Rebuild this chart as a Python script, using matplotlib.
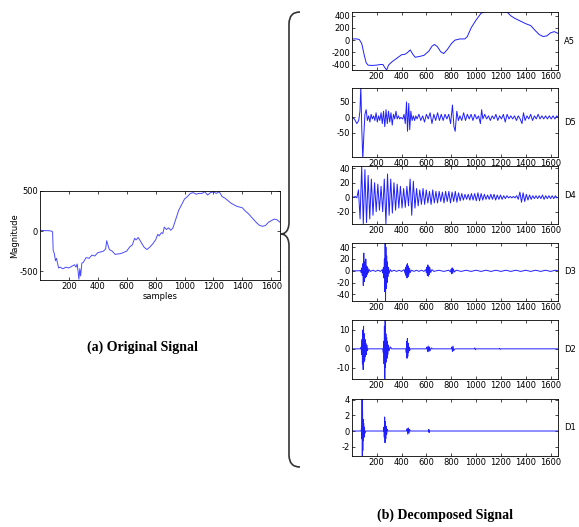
import matplotlib
matplotlib.use("Agg")
import matplotlib.pyplot as plt
import numpy as np
from matplotlib.path import Path
from matplotlib.patches import PathPatch

W, H = 579, 527
plt.rcParams['font.family'] = ['DejaVu Sans']

# ---- original signal (samples, magnitude) ----
orig_x = [1, 20, 40, 60, 80, 88, 92, 100, 108, 115, 122, 130, 140, 160, 180, 200, 220, 240, 250,
          258, 264, 270, 276, 282, 290, 300, 320, 340, 360, 380, 400, 420, 440, 455, 462, 470, 480,
          500, 520, 560, 600, 620, 640, 655, 665, 680, 700, 720, 740, 760, 780, 800, 815, 825, 840,
          850, 860, 875, 890, 905, 920, 940, 960, 980, 1000, 1020, 1040, 1060, 1080, 1100, 1120,
          1140, 1160, 1180, 1200, 1220, 1240, 1260, 1280, 1300, 1320, 1340, 1360, 1380, 1400, 1420,
          1440, 1460, 1480, 1500, 1520, 1540, 1560, 1580, 1600, 1620, 1640, 1660]
orig_y = [10, 8, 5, 5, 0, -10, -240, -280, -370, -340, -400, -460, -450, -470, -450, -460, -440,
          -420, -450, -410, -500, -600, -470, -560, -400, -390, -330, -340, -300, -310, -270, -260,
          -250, -220, -120, -170, -230, -250, -290, -280, -250, -200, -170, -90, -110, -80, -140,
          -200, -230, -200, -160, -110, -40, -60, -20, -30, 50, 20, 40, 10, 40, 150, 260, 330, 400,
          430, 470, 480, 460, 470, 470, 490, 450, 480, 490, 470, 490, 430, 410, 380, 350, 330, 310,
          300, 290, 250, 220, 180, 140, 100, 70, 60, 70, 110, 130, 150, 140, 110]

# ---- approximation A5 ----
a5_x = [1, 40, 60, 80, 100, 115, 130, 160, 200, 230, 250, 265, 280, 295, 320, 360, 400, 430, 450,
        470, 490, 510, 540, 580, 620, 645, 665, 690, 715, 740, 770, 800, 830, 870, 910, 930, 960,
        1000, 1040, 1070, 1100, 1150, 1200, 1250, 1280, 1310, 1350, 1400, 1440, 1480, 1510, 1540,
        1570, 1600, 1630, 1660]
a5_y = [20, 20, 10, -60, -250, -370, -410, -415, -410, -400, -400, -450, -490, -410, -360, -300,
        -240, -230, -200, -160, -230, -280, -270, -250, -180, -100, -70, -110, -190, -220, -150,
        -60, 0, 20, 20, 60, 200, 330, 440, 470, 470, 470, 470, 460, 400, 360, 320, 270, 240, 150,
        90, 60, 70, 120, 140, 110]

# ---- detail D5 ----
d5_x = [1, 20, 40, 55, 65, 72, 80, 88, 96, 105, 115, 125, 135, 145, 155, 165, 175, 185, 195, 205,
        215, 225, 235, 245, 255, 265, 275, 285, 295, 305, 315, 325, 335, 345, 355, 365, 375, 385,
        395, 410, 420, 430, 440, 448, 458, 466, 475, 485, 495, 505, 515, 525, 540, 555, 570, 585,
        600, 615, 630, 645, 660, 675, 690, 705, 720, 735, 750, 765, 780, 795, 810, 822, 832, 845,
        858, 870, 885, 900, 915, 930, 945, 960, 975, 990, 1005, 1020, 1035, 1045, 1055, 1070, 1085,
        1100, 1115, 1130, 1145, 1160, 1175, 1190, 1205, 1220, 1235, 1250, 1265, 1280, 1295, 1310,
        1325, 1340, 1355, 1370, 1382, 1395, 1410, 1425, 1440, 1455, 1470, 1485, 1500, 1515, 1530,
        1545, 1560, 1575, 1590, 1605, 1620, 1635, 1650, 1660]
d5_y = [0, -5, -20, -10, 20, 100, -40, -135, -60, 10, 25, -10, 5, -15, 10, -5, 5, -10, 15, -15,
        5, -10, 15, -20, 20, -30, 25, -20, 20, -15, 15, -25, 10, -5, 20, -5, 5, -5, 0, -5, 10, -20,
        50, -45, 45, -40, 20, -10, 5, -10, 5, -5, 10, -10, 5, -15, 10, -5, 15, -20, 10, -10, 15,
        -10, 10, -10, 10, -5, 10, -20, 40, -30, -45, 20, -10, 5, -10, 15, -10, 10, -5, 10, -10, 10,
        -5, 5, -20, 25, -5, 10, -5, 5, -10, 5, -5, 10, -10, 5, -5, 10, -15, 10, -5, 5, -5, 5, -10,
        5, -5, -20, 15, -10, 5, -5, 10, -10, 5, -5, 10, -5, 5, -5, 5, -5, 5, -5, 5, -5, 5, 0]

# ---- detail D4 (one value every d4_step samples) ----
d4_step = 13
d4_y = [0, 0, 1, -1, 10, -30, 43, -37, 38, -35, 30, -30, 25, -25, 20, -20, 18, -18, 15, -20,
        25, -37, 32, -25, 25, -22, 20, -18, 18, -15, 15, -15, 12, -14, 15, -12, 25, -25, 22, -15,
        12, -12, 10, -10, 12, -10, 10, -8, 8, -10, 10, -8, 8, -8, 8, -6, 7, -8, 8, -6,
        8, -8, 7, -6, 8, -7, 6, -5, 5, -4, 4, -3, 4, -4, 5, -4, 5, -5, 6, -5,
        5, -4, 4, -3, 3, -3, 4, -3, 4, -4, 3, -3, 3, -3, 2, -2, 2, -1, 1, -1,
        1, -1, 2, -3, 7, -7, 6, -6, 4, -4, 3, -3, 2, -2, 2, -2, 2, -2, 3, -3,
        2, -2, 2, -2, 2, -2, 2, -1]

# ---- detail D3 ----
d3_x = [1, 60, 70, 75, 80, 84, 88, 92, 96, 100, 104, 108, 112, 116, 120, 124, 128, 132, 140, 150,
        170, 190, 210, 230, 245, 250, 254, 258, 262, 265, 268, 271, 274, 277, 280, 283, 286, 290,
        295, 300, 310, 320, 340, 360, 380, 400, 420, 428, 432, 436, 440, 444, 448, 452, 456, 460,
        465, 470, 480, 500, 520, 540, 560, 580, 595, 600, 604, 608, 612, 616, 620, 624, 628, 635,
        645, 660, 700, 740, 780, 795, 800, 804, 808, 812, 818, 825, 840, 880, 920, 960, 1000, 1040,
        1080, 1120, 1160, 1200, 1240, 1280, 1320, 1360, 1400, 1440, 1480, 1520, 1560, 1600, 1640,
        1660]
d3_y = [0, 0, 1, -3, 5, -8, 12, -25, 30, -18, 15, -12, 20, -10, 8, -6, 5, -3, 2, -1,
        1, -1, 1, -1, 2, -4, 6, -12, 20, -35, 55, -60, 40, -30, 25, -20, 15, -10,
        6, -4, 2, -1, 1, -1, 1, -1, 2, -4, 6, -8, 10, -12, 12, -10, 8, -6,
        4, -3, 1, -1, 1, -1, 1, -1, 2, -3, 6, -8, 10, -9, 7, -6, 5, -3,
        2, -1, 1, -1, 1, -2, 3, -5, 5, -4, 3, -2, 1, -1, 1, -1, 1, -1,
        1, -1, 1, -1, 1, -1, 1, -1, 1, -1, 1, -1, 1, -1, 1, 0]

# ---- detail D2 ----
d2_x = [1, 70, 75, 78, 82, 85, 88, 91, 94, 97, 100, 103, 106, 109, 112, 116, 120, 125, 130, 250,
        253, 256, 259, 262, 265, 268, 271, 274, 277, 280, 283, 286, 290, 295, 300, 310, 320, 435,
        438, 441, 444, 447, 450, 453, 456, 460, 465, 470, 600, 605, 610, 615, 620, 625, 630, 640,
        650, 800, 805, 810, 815, 820, 830, 985, 990, 995, 1000, 1185, 1190, 1195, 1200, 1660]
d2_y = [0, 0, 1, -3, 5, -8, 10, -11, 12, -7, 8, -6, 5, -4, 3, -3, 2, -1, 0, 0,
        -2, 4, -8, 12, -17, 16, -10, 8, -7, 6, -5, 4, -3, 2, -1, 1, 0, 0,
        -2, 4, -5, 5.5, -4, 3, -2, 1, -1, 0, 0, 1, -1.5, 1.5, -1.5, 1, -1, 0.5,
        0, 0, 1, -1.5, 1.5, -1, 0, 0, 0.5, -0.5, 0, 0, 0.3, -0.3, 0, 0]

# ---- detail D1 ----
d1_x = [1, 75, 78, 80, 82, 84, 86, 88, 90, 92, 95, 98, 101, 104, 110, 255, 258, 261, 264, 267,
        270, 273, 276, 280, 285, 290, 440, 445, 450, 455, 460, 465, 470, 618, 620, 622, 624, 1660]
d1_y = [0, 0, 0.5, -1, 4.3, -3.4, 2.5, -2.5, 1.5, -1.2, 1, -0.8, 0.5, -0.3, 0, 0, 0.5, -0.8, 1.8,
        -1.5, 1.2, -1, 0.6, -0.4, 0.2, 0, 0, 0.3, -0.4, 0.4, -0.3, 0.2, 0, 0, 0.2, -0.2, 0, 0]

x_ticks = [200, 400, 600, 800, 1000, 1200, 1400, 1600]
x_max = 1660
line_col = '#1f1fff'

# name, x, y, ylim, yticks, top px, bottom px
panels = [
    ('A5', a5_x, a5_y, (-490, 462), [-400, -200, 0, 200, 400], 12, 70),
    ('D5', d5_x, d5_y, (-128, 95), [-50, 0, 50], 88, 157),
    ('D4', list(np.arange(len(d4_y)) * d4_step + 1), d4_y, (-37, 43), [-20, 0, 20, 40], 166, 224),
    ('D3', d3_x, d3_y, (-51, 47), [-40, -20, 0, 20, 40], 243, 301),
    ('D2', d2_x, d2_y, (-16, 15.3), [-10, 0, 10], 320, 379),
    ('D1', d1_x, d1_y, (-3.2, 4.1), [-2, 0, 2, 4], 399, 456),
]


def rect(left, top, right, bottom):
    return [left / W, 1 - bottom / H, (right - left) / W, (bottom - top) / H]


def style(ax):
    ax.tick_params(direction='in', top=True, right=True, length=2.5, width=0.5,
                   labelsize=6, pad=1.5)
    for s in ax.spines.values():
        s.set_linewidth(0.6)


fig = plt.figure(figsize=(W / 100, H / 100), dpi=100)

# (a) original signal
ax = fig.add_axes(rect(40, 191, 280, 280))
ax.plot(orig_x, orig_y, color='#4a4aff', lw=0.7)
ax.set_xlim(1, x_max)
ax.set_ylim(-610, 500)
ax.set_xticks(x_ticks)
ax.set_yticks([-500, 0, 500], labels=['-500', '0', '500'])
ax.set_xlabel('samples', fontsize=6, labelpad=1)
ax.set_ylabel('Magnitude', fontsize=6, labelpad=0)
style(ax)

# (b) decomposed signal
for name, xs, ys, ylim, yt, top, bottom in panels:
    ax = fig.add_axes(rect(352, top, 558, bottom))
    ax.plot(xs, ys, color=line_col, lw=0.7)
    ax.set_xlim(1, x_max)
    ax.set_ylim(*ylim)
    ax.set_xticks(x_ticks)
    ax.set_yticks(yt, labels=[str(v) for v in yt])
    style(ax)
    fig.text(564 / W, 1 - (top + bottom) / 2 / H, name, fontsize=6, ha='left', va='center')

# curly brace
bx, tip_x, end_x = 289, 281, 300
top_y, mid_y, bot_y = 12, 234, 467
pts = [(end_x, top_y), (bx, top_y), (bx, top_y + 12),
       (bx, mid_y - 12),
       (bx, mid_y - 1), (tip_x + 2, mid_y), (tip_x, mid_y),
       (tip_x + 2, mid_y), (bx, mid_y + 1), (bx, mid_y + 12),
       (bx, bot_y - 12),
       (bx, bot_y), (end_x, bot_y)]
codes = [Path.MOVETO, Path.CURVE3, Path.CURVE3, Path.LINETO,
         Path.CURVE4, Path.CURVE4, Path.CURVE4,
         Path.CURVE4, Path.CURVE4, Path.CURVE4,
         Path.LINETO, Path.CURVE3, Path.CURVE3]
verts = [(x / W, 1 - y / H) for x, y in pts]
fig.add_artist(PathPatch(Path(verts, codes), transform=fig.transFigure,
                         fill=False, edgecolor='#333333', lw=1.2))

cap = dict(fontsize=10, fontweight='bold', family=['Liberation Serif', 'DejaVu Serif'],
           ha='center', va='center')
fig.text(142 / W, 1 - 347 / H, '(a) Original Signal', **cap)
fig.text(445 / W, 1 - 515 / H, '(b) Decomposed Signal', **cap)

fig.savefig('out.png', dpi=100)
